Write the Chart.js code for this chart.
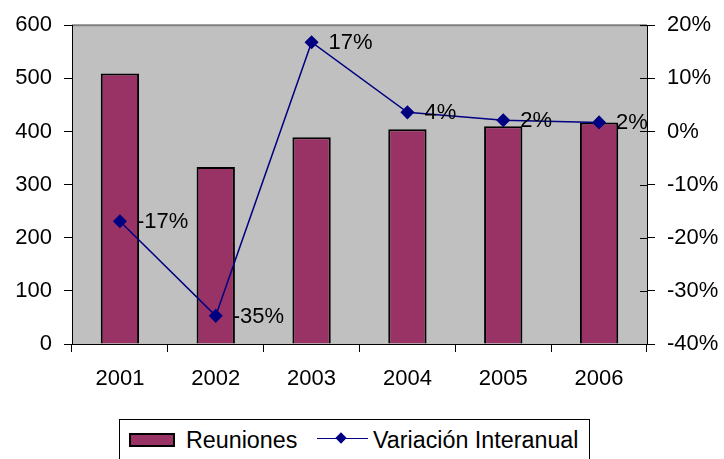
<!DOCTYPE html>
<html>
<head>
<meta charset="utf-8">
<script src="https://cdn.jsdelivr.net/npm/chart.js@4"></script>
<style>
  body { margin: 0; background: #fff; }
  #wrap { position: relative; width: 724px; height: 459px; overflow: hidden; }
  #legend { position: absolute; left: 119px; top: 419px; width: 469px; height: 50px;
            border: 1px solid #000; background: #fff;
            font-family: "Liberation Sans", Arial, sans-serif; font-size: 23.3px; color: #000; }
  .item { position: absolute; top: 7px; line-height: 26px; }
  #swBar { position: absolute; left: 9px; top: 13px; width: 42px; height: 10px;
           background: #993366; border: 2px solid #000; }
  #swLine { position: absolute; left: 197px; top: 18px; width: 51px; height: 0;
            border-top: 1.5px solid #000080; }
  #swDot { position: absolute; left: 217px; top: 14px; width: 8px; height: 8px;
           background: #000080; transform: rotate(45deg); }
</style>
</head>
<body>
<div id="wrap">
  <canvas id="chart" width="724" height="459"></canvas>
  <div id="legend">
    <div id="swBar"></div>
    <div class="item" style="left:66px">Reuniones</div>
    <div id="swLine"></div>
    <div id="swDot"></div>
    <div class="item" style="left:253px">Variación Interanual</div>
  </div>
</div>
<script>
// datos del grafico
const years = ['2001', '2002', '2003', '2004', '2005', '2006'];
const reuniones = [509, 333, 389, 404, 410, 417];
const variacion = [-16.9, -34.7, 16.8, 3.6, 2.1, 1.7];
const variacionLabels = ['-17%', '-35%', '17%', '4%', '2%', '2%'];

const fontFamily = '"Liberation Sans", Arial, sans-serif';
const fontSize = 22;

// etiquetas a la derecha de cada punto de la linea
const pointLabels = {
    id: 'pointLabels',
    afterDatasetsDraw(chart) {
        const ctx = chart.ctx;
        const meta = chart.getDatasetMeta(1);
        ctx.save();
        ctx.font = fontSize + 'px ' + fontFamily;
        ctx.fillStyle = '#000';
        ctx.textAlign = 'left';
        ctx.textBaseline = 'middle';
        meta.data.forEach((pt, i) => {
            ctx.fillText(variacionLabels[i], pt.x + 17, pt.y + 1);
        });
        ctx.restore();
    }
};

// fondo gris, borde superior y marcas interiores del eje derecho
const plotBg = {
    id: 'plotBg',
    beforeDraw(chart) {
        const { ctx, chartArea: a } = chart;
        ctx.save();
        ctx.fillStyle = '#c0c0c0';
        ctx.fillRect(a.left, a.top, a.right - a.left, a.bottom - a.top);
        ctx.strokeStyle = '#808080';
        ctx.lineWidth = 2;
        ctx.beginPath();
        ctx.moveTo(a.left, a.top);
        ctx.lineTo(a.right, a.top);
        ctx.stroke();
        ctx.restore();
    },
    afterDraw(chart) {
        const { ctx, chartArea: a } = chart;
        const s = chart.scales.y1;
        ctx.save();
        ctx.strokeStyle = '#000';
        ctx.lineWidth = 1;
        s.ticks.forEach((t, i) => {
            const y = Math.round(s.getPixelForTick(i)) + 0.5;
            ctx.beginPath();
            ctx.moveTo(a.right - 7, y);
            ctx.lineTo(a.right, y);
            ctx.stroke();
        });
        ctx.restore();
    }
};

new Chart(document.getElementById('chart').getContext('2d'), {
    data: {
        labels: years,
        datasets: [{
            type: 'bar',
            label: 'Reuniones',
            data: reuniones,
            backgroundColor: '#993366',
            borderColor: '#000',
            borderWidth: 2,
            barPercentage: 0.4,
            categoryPercentage: 1,
            yAxisID: 'y',
            order: 2
        }, {
            type: 'line',
            label: 'Variación Interanual',
            data: variacion,
            borderColor: '#000080',
            borderWidth: 1.5,
            pointStyle: 'rectRot',
            pointRadius: 6,
            pointBackgroundColor: '#000080',
            pointBorderColor: '#000080',
            yAxisID: 'y1',
            order: 1
        }]
    },
    options: {
        responsive: false,
        animation: false,
        layout: { padding: { top: 23, bottom: 65, left: 0, right: 0 } },
        plugins: { legend: { display: false }, tooltip: { enabled: false } },
        scales: {
            x: {
                grid: { offset: true, drawOnChartArea: false, tickLength: 8, color: '#000' },
                border: { color: '#000' },
                ticks: { color: '#000', padding: 14, font: { family: fontFamily, size: fontSize } },
                afterFit(s) { s.height = 50; }
            },
            y: {
                position: 'left',
                min: 0, max: 600,
                ticks: { stepSize: 100, color: '#000', padding: 12, font: { family: fontFamily, size: fontSize } },
                grid: { drawOnChartArea: false, tickLength: 8, color: '#000' },
                border: { color: '#000' },
                afterFit(s) { s.width = 72; }
            },
            y1: {
                position: 'right',
                min: -40, max: 20,
                ticks: { stepSize: 10, color: '#000', padding: 12, font: { family: fontFamily, size: fontSize },
                         callback: v => v + '%' },
                grid: { drawOnChartArea: false, tickLength: 8, color: '#000' },
                border: { color: '#000' },
                afterFit(s) { s.width = 77; }
            }
        }
    },
    plugins: [plotBg, pointLabels]
});
</script>
</body>
</html>
